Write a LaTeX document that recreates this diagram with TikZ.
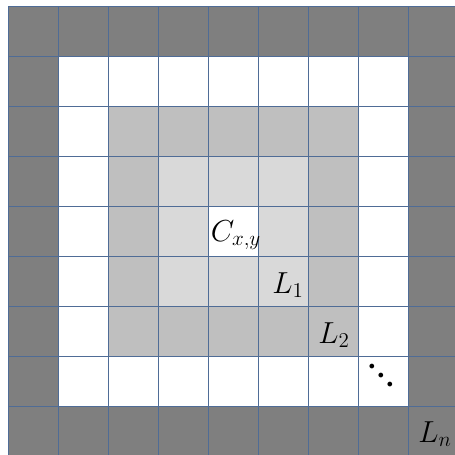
\documentclass[tikz,border=0pt]{standalone}
\usepackage{amsmath}
\usepackage{graphicx}
\usepackage{tikz}
\definecolor{gridblue}{RGB}{79,108,150}
\definecolor{ringdark}{RGB}{127,127,127}
\definecolor{ringmid}{RGB}{191,191,191}
\definecolor{ringlight}{RGB}{217,217,217}

\begin{document}
\begin{tikzpicture}[x=1cm,y=1cm,lbl/.style={font=\LARGE,inner sep=0pt}]
\useasboundingbox (-0.16,0.04) rectangle (8.94,9.12);
\foreach \k/\c in %
{0/ringdark,1/white,2/ringmid,3/ringlight,4/white} {
   \fill[\c] (\k,\k) rectangle (9-\k,9-\k);
}
\draw[gridblue,line width=0.45pt] (0,0) grid (9,9);
\node[lbl] (cxy) at (4.56,4.42) {$C_{x,y}$};
\node[lbl] (l1) at (5.6,3.42) {$L_1$};
\node[lbl] (l2) at (6.52,2.42) {$L_2$};
\node[lbl] (dots) at (7.46,1.6)
   {\rotatebox{-45}{$\boldsymbol{\cdot}\mkern-2mu\boldsymbol{\cdot}\mkern-2mu\boldsymbol{\cdot}$}};
\node[lbl] (ln) at (8.54,0.44) {$L_n$};
\end{tikzpicture}
\end{document}
